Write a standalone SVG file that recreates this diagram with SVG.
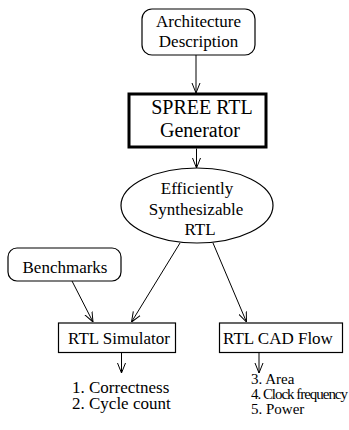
<svg xmlns="http://www.w3.org/2000/svg" width="349" height="430" viewBox="0 0 349 430">
<style>
.n{fill:#fff;stroke:#000;stroke-width:1.2}
.c line{stroke:#000;stroke-width:1;fill:none;marker-end:url(#ah)}
.m{text-anchor:middle}
</style>
<defs>
<marker id="ah" viewBox="0 0 10 10" refX="10" refY="5" markerWidth="10" markerHeight="10" markerUnits="userSpaceOnUse" orient="auto">
<path d="M0,1 L10,5 L0,9" fill="none" stroke="#000" stroke-width="1"/>
</marker>
</defs>
<rect width="349" height="430" fill="#fff"/>
<g font-family="'Liberation Serif', 'DejaVu Serif', serif" fill="#000">
<g id="arch">
<rect class="n" x="142" y="9" width="113" height="46" rx="10"/>
<text class="m" x="198.5" y="27" font-size="17">Architecture</text>
<text class="m" x="198.5" y="47" font-size="17">Description</text>
</g>
<g id="spree">
<rect x="129" y="94" width="137" height="53" fill="#fff" stroke="#000" stroke-width="3"/>
<text class="m" x="202" y="114" font-size="20">SPREE RTL</text>
<text class="m" x="200" y="137" font-size="20">Generator</text>
</g>
<g id="rtl">
<ellipse class="n" cx="197" cy="205.5" rx="76" ry="37.5"/>
<text class="m" x="197" y="194" font-size="17">Efficiently</text>
<text class="m" x="196" y="215" font-size="17">Synthesizable</text>
<text class="m" x="200" y="235" font-size="17">RTL</text>
</g>
<g id="bench">
<rect class="n" x="8" y="248" width="113" height="33" rx="9"/>
<text class="m" x="65" y="273" font-size="17">Benchmarks</text>
</g>
<g id="sim">
<rect class="n" x="58.5" y="323" width="117" height="29.5"/>
<text class="m" x="119" y="344" font-size="17">RTL Simulator</text>
</g>
<g id="cad">
<rect class="n" x="219.5" y="323" width="123" height="29.5"/>
<text class="m" x="278" y="344" font-size="17">RTL CAD Flow</text>
</g>
<g id="simout">
<text x="72" y="393" font-size="17">1. Correctness</text>
<text x="72" y="409" font-size="17">2. Cycle count</text>
</g>
<g id="cadout">
<text x="251" y="384" font-size="15">3. Area</text>
<text x="251" y="399" font-size="15" textLength="97" lengthAdjust="spacing">4. Clock frequency</text>
<text x="251" y="414" font-size="15">5. Power</text>
</g>
</g>
<g class="c" id="connectors">
<line x1="196" y1="55" x2="196" y2="93"/>
<line x1="196.5" y1="148.5" x2="196.5" y2="168"/>
<line x1="180" y1="243" x2="131.5" y2="322"/>
<line x1="213" y1="243" x2="246.5" y2="322"/>
<line x1="72" y1="281" x2="93" y2="322"/>
<line x1="121.5" y1="352.5" x2="121.5" y2="373"/>
<line x1="259" y1="352.5" x2="259" y2="373"/>
</g>
</svg>
